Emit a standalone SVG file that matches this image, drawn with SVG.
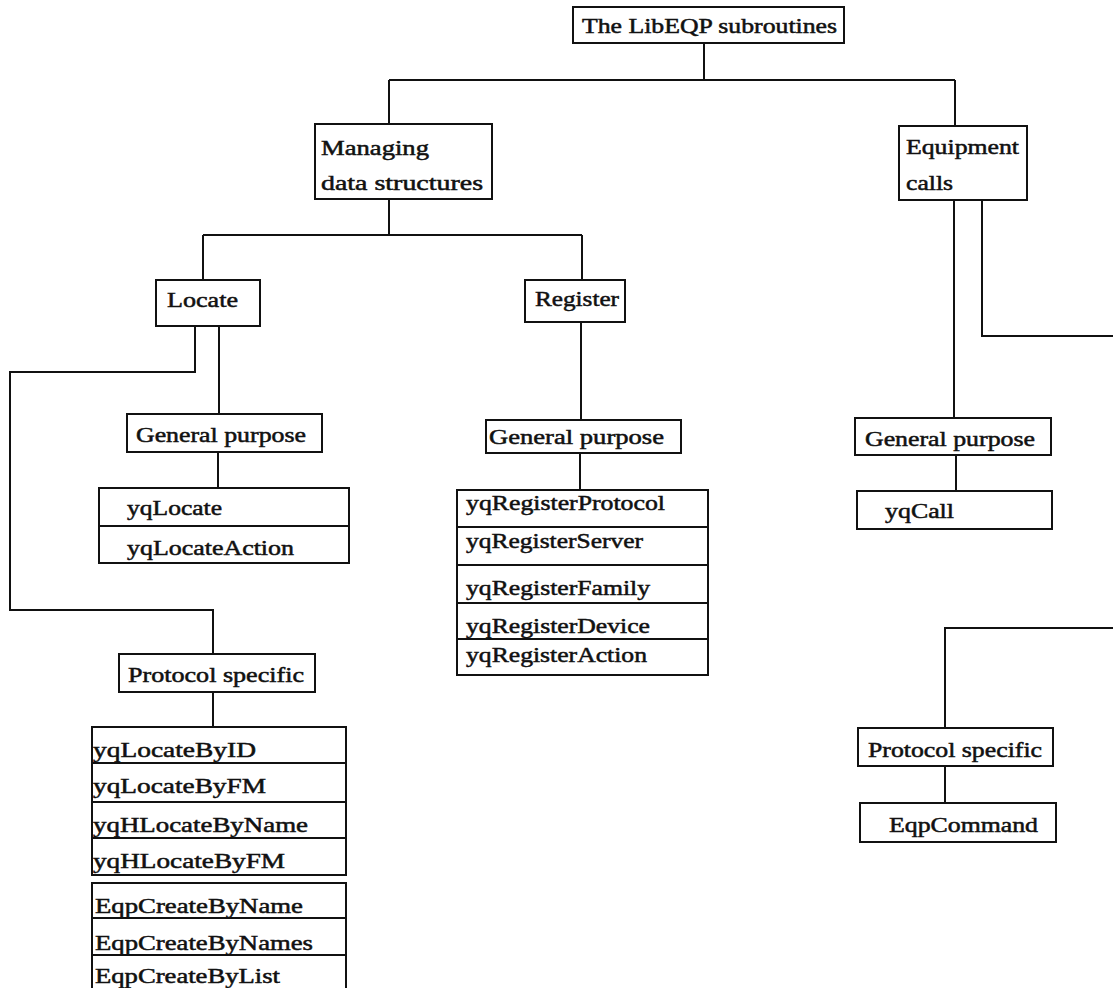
<svg xmlns="http://www.w3.org/2000/svg" width="1113" height="988" viewBox="0 0 1113 988">
<style>
.b{fill:#fff;stroke:#111;stroke-width:2}
.d{stroke:#111;stroke-width:1.8}
.c{fill:none;stroke:#111;stroke-width:2}
text{font-family:"Liberation Serif","Times New Roman",serif;font-size:21px;fill:#111;stroke:#111;stroke-width:0.5}
</style>
<rect width="1113" height="988" fill="#fff"/>
<g id="connectors">
<path class="c" d="M704 43V80M389 80H955M389 80V124M955 80V126"/>
<path class="c" d="M389 199V235M203 235H582M203 235V280M582 235V280"/>
<path class="c" d="M195 326V372H10V610H213V654M219 326V414M218 452V488M213 692V727"/>
<path class="c" d="M581 320V420M580 453V490"/>
<path class="c" d="M954 200V418M982 200V336H1113M956 455V491M1113 628H945V728M945 766V803"/>
</g>
<g id="root"><rect class="b" x="573" y="7" width="271" height="36"/><text x="582" y="33" textLength="255" lengthAdjust="spacingAndGlyphs">The LibEQP subroutines</text></g>
<g id="managing"><rect class="b" x="315" y="124" width="177" height="75"/><text x="321" y="155" textLength="108" lengthAdjust="spacingAndGlyphs">Managing</text><text x="321" y="190" textLength="162" lengthAdjust="spacingAndGlyphs">data structures</text></g>
<g id="equipment"><rect class="b" x="899" y="126" width="128" height="74"/><text x="906" y="154" textLength="113" lengthAdjust="spacingAndGlyphs">Equipment</text><text x="906" y="190" textLength="47" lengthAdjust="spacingAndGlyphs">calls</text></g>
<g id="locate"><rect class="b" x="156" y="280" width="104" height="46"/><text x="167" y="307" textLength="71" lengthAdjust="spacingAndGlyphs">Locate</text></g>
<g id="register"><rect class="b" x="525" y="280" width="100" height="42"/><text x="535" y="306" textLength="84" lengthAdjust="spacingAndGlyphs">Register</text></g>
<g id="locate-general"><rect class="b" x="127" y="414" width="195" height="38"/><text x="136" y="442" textLength="170" lengthAdjust="spacingAndGlyphs">General purpose</text></g>
<g id="locate-general-list"><rect class="b" x="99" y="488" width="250" height="75"/><line class="d" x1="99" y1="526" x2="349" y2="526"/><text x="127" y="515" textLength="95" lengthAdjust="spacingAndGlyphs">yqLocate</text><text x="127" y="555" textLength="167" lengthAdjust="spacingAndGlyphs">yqLocateAction</text></g>
<g id="locate-protocol"><rect class="b" x="119" y="654" width="196" height="38"/><text x="128" y="682" textLength="176" lengthAdjust="spacingAndGlyphs">Protocol specific</text></g>
<g id="locate-protocol-list"><rect class="b" x="92" y="727" width="254" height="148"/><line class="d" x1="92" y1="763" x2="346" y2="763"/><line class="d" x1="92" y1="802" x2="346" y2="802"/><line class="d" x1="92" y1="838" x2="346" y2="838"/><text x="93" y="757" textLength="163" lengthAdjust="spacingAndGlyphs">yqLocateByID</text><text x="93" y="793" textLength="173" lengthAdjust="spacingAndGlyphs">yqLocateByFM</text><text x="93" y="832" textLength="215" lengthAdjust="spacingAndGlyphs">yqHLocateByName</text><text x="93" y="868" textLength="192" lengthAdjust="spacingAndGlyphs">yqHLocateByFM</text></g>
<g id="create-list"><rect class="b" x="92" y="883" width="254" height="110"/><line class="d" x1="92" y1="918" x2="346" y2="918"/><line class="d" x1="92" y1="955" x2="346" y2="955"/><text x="95" y="913" textLength="208" lengthAdjust="spacingAndGlyphs">EqpCreateByName</text><text x="95" y="950" textLength="218" lengthAdjust="spacingAndGlyphs">EqpCreateByNames</text><text x="95" y="983" textLength="185" lengthAdjust="spacingAndGlyphs">EqpCreateByList</text></g>
<g id="register-general"><rect class="b" x="486" y="420" width="195" height="33"/><text x="489" y="444" textLength="175" lengthAdjust="spacingAndGlyphs">General purpose</text></g>
<g id="register-list"><rect class="b" x="457" y="490" width="251" height="185"/><line class="d" x1="457" y1="527" x2="708" y2="527"/><line class="d" x1="457" y1="565" x2="708" y2="565"/><line class="d" x1="457" y1="603" x2="708" y2="603"/><line class="d" x1="457" y1="639" x2="708" y2="639"/><text x="466" y="510" textLength="199" lengthAdjust="spacingAndGlyphs">yqRegisterProtocol</text><text x="466" y="548" textLength="177" lengthAdjust="spacingAndGlyphs">yqRegisterServer</text><text x="466" y="595" textLength="184" lengthAdjust="spacingAndGlyphs">yqRegisterFamily</text><text x="466" y="633" textLength="184" lengthAdjust="spacingAndGlyphs">yqRegisterDevice</text><text x="466" y="662" textLength="181" lengthAdjust="spacingAndGlyphs">yqRegisterAction</text></g>
<g id="equipment-general"><rect class="b" x="855" y="418" width="196" height="37"/><text x="865" y="446" textLength="170" lengthAdjust="spacingAndGlyphs">General purpose</text></g>
<g id="yqcall"><rect class="b" x="857" y="491" width="195" height="38"/><text x="885" y="518" textLength="69" lengthAdjust="spacingAndGlyphs">yqCall</text></g>
<g id="equipment-protocol"><rect class="b" x="858" y="728" width="195" height="38"/><text x="868" y="757" textLength="174" lengthAdjust="spacingAndGlyphs">Protocol specific</text></g>
<g id="eqpcommand"><rect class="b" x="860" y="803" width="196" height="39"/><text x="889" y="832" textLength="149" lengthAdjust="spacingAndGlyphs">EqpCommand</text></g>
</svg>
